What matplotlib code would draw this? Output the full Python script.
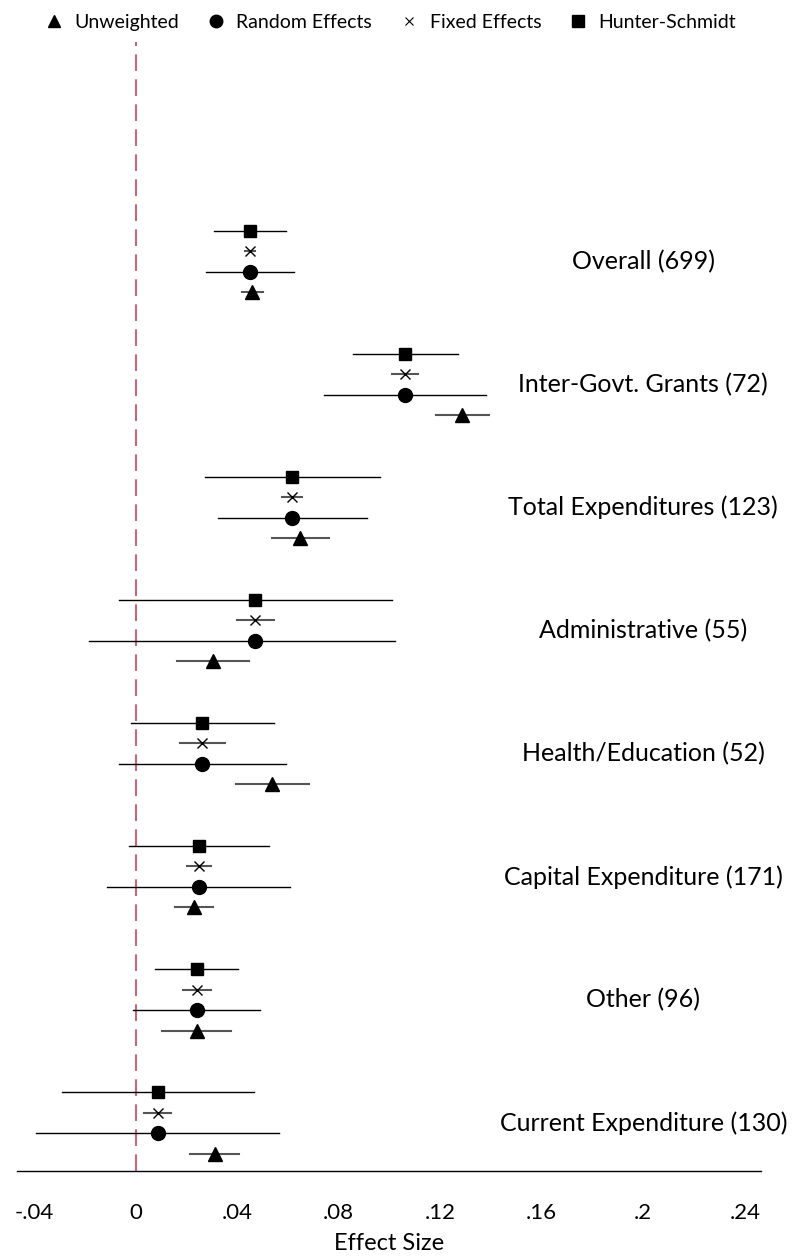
import matplotlib.pyplot as plt
from matplotlib.lines import Line2D

plt.rcParams['font.family'] = ['Lato', 'DejaVu Sans']

categories = ['Overall', 'Inter-Govt. Grants', 'Total Expenditures', 'Administrative',
              'Health/Education', 'Capital Expenditure', 'Other', 'Current Expenditure']
n_studies = [699, 72, 123, 55, 52, 171, 96, 130]

# Hunter-Schmidt estimates and intervals
hs_est = [0.0450, 0.1062, 0.0617, 0.0470, 0.0262, 0.0248, 0.0242, 0.0087]
hs_lo = [0.0310, 0.0858, 0.0273, -0.0066, -0.0017, -0.0026, 0.0076, -0.0292]
hs_hi = [0.0591, 0.1269, 0.0963, 0.1009, 0.0545, 0.0524, 0.0403, 0.0466]

# fixed effects
fe_est = [0.0450, 0.1062, 0.0617, 0.0470, 0.0262, 0.0248, 0.0242, 0.0087]
fe_lo = [0.0432, 0.1011, 0.0577, 0.0398, 0.0176, 0.0202, 0.0187, 0.0033]
fe_hi = [0.0468, 0.1113, 0.0656, 0.0545, 0.0352, 0.0296, 0.0297, 0.0140]

# random effects
re_est = [0.0450, 0.1062, 0.0617, 0.0470, 0.0262, 0.0248, 0.0242, 0.0087]
re_lo = [0.0277, 0.0743, 0.0324, -0.0184, -0.0065, -0.0112, -0.0011, -0.0392]
re_hi = [0.0625, 0.1381, 0.0911, 0.1022, 0.0592, 0.0609, 0.0490, 0.0565]

# unweighted means
uw_est = [0.0457, 0.1287, 0.0647, 0.0306, 0.0537, 0.0230, 0.0242, 0.0313]
uw_lo = [0.0418, 0.1182, 0.0537, 0.0164, 0.0394, 0.0155, 0.0104, 0.0215]
uw_hi = [0.0501, 0.1393, 0.0761, 0.0445, 0.0682, 0.0305, 0.0376, 0.0408]

xticks = [-0.04, 0, 0.04, 0.08, 0.12, 0.16, 0.2, 0.24]
xticklabels = ['-.04', '0', '.04', '.08', '.12', '.16', '.2', '.24']

fig = plt.figure(figsize=(7.93, 12.57), dpi=100)
ax = fig.add_axes([0.0214, 0.0684, 0.9383, 0.8982])

series = [
    (hs_est, hs_lo, hs_hi, 's', 9, 'black', 1.0),
    (fe_est, fe_lo, fe_hi, 'x', 7, '#555555', 1.5),
    (re_est, re_lo, re_hi, 'o', 10, 'black', 1.0),
    (uw_est, uw_lo, uw_hi, '^', 10, '#555555', 1.5),
]

for row, (est, lo, hi, mk, ms, lc, lw) in enumerate(series):
    for g in range(len(categories)):
        y = g * 6 + row
        ax.plot([lo[g], hi[g]], [y, y], color=lc, lw=lw, zorder=2)
        if mk == 'x':
            ax.plot(est[g], y, marker='x', ms=ms, mew=1.0, color='black',
                    ls='none', zorder=3)
        else:
            ax.plot(est[g], y, marker=mk, ms=ms, color='black', ls='none', zorder=3)

for g, (cat, n) in enumerate(zip(categories, n_studies)):
    ax.text(0.2, g * 6 + 1.5, f'{cat} ({n})', ha='center', va='center',
            fontsize=18, clip_on=False)

ax.axvline(0, color='#c9687a', lw=1.5, dashes=(8, 4), zorder=1)

ax.set_xlim(-0.0468, 0.2464)
ax.set_ylim(45.85, -9.2)
ax.set_xticks(xticks)
ax.set_xticklabels(xticklabels, fontsize=16)
ax.tick_params(axis='x', length=0, pad=23)
ax.set_yticks([])
for side in ['top', 'right', 'left']:
    ax.spines[side].set_visible(False)
ax.spines['bottom'].set_linewidth(1.0)
ax.set_xlabel('Effect Size', fontsize=17, labelpad=7)

handles = [
    Line2D([], [], marker='^', ms=9, color='black', ls='none'),
    Line2D([], [], marker='o', ms=9, color='black', ls='none'),
    Line2D([], [], marker='x', ms=6, mew=0.8, color='black', ls='none'),
    Line2D([], [], marker='s', ms=9, color='black', ls='none'),
]
labels = ['Unweighted', 'Random Effects', 'Fixed Effects', 'Hunter-Schmidt']
fig.legend(handles, labels, loc='upper center', bbox_to_anchor=(0.492, 1.003),
           ncol=4, frameon=False, fontsize=14, handlelength=1.0,
           handletextpad=0.55, columnspacing=1.4)

fig.savefig('out.png', dpi=100)
